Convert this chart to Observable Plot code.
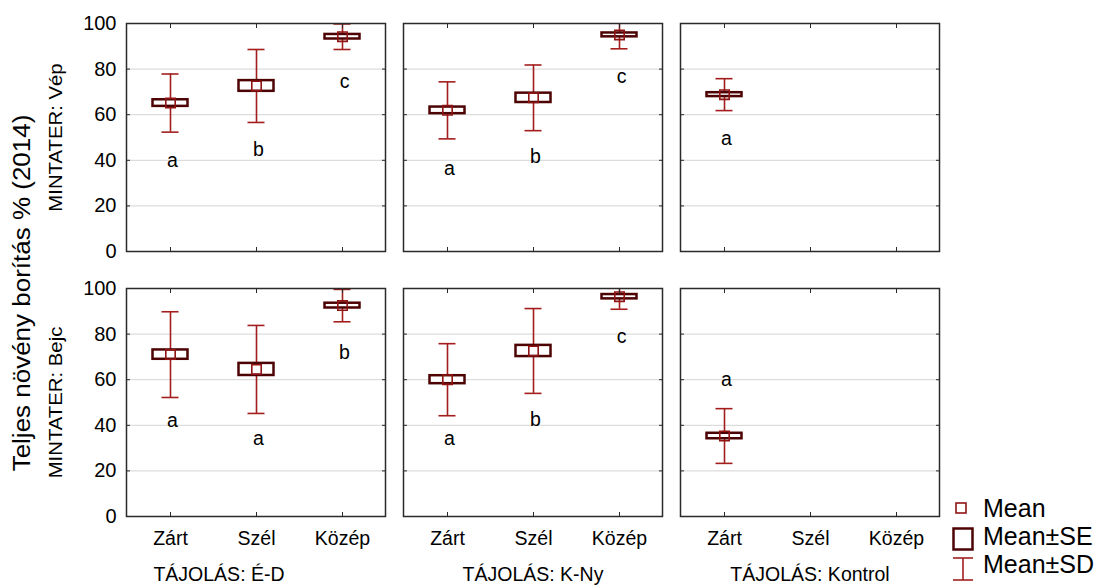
<!DOCTYPE html>
<html><head><meta charset="utf-8">
<script src="https://cdn.jsdelivr.net/npm/d3@7"></script>
<script src="https://cdn.jsdelivr.net/npm/@observablehq/plot@0.6"></script>
<style>body{margin:0;background:#fff;} #chart{width:1102px;height:586px;}</style>
</head><body><div id="chart"></div>
<script>
const tajolas = ["É-D", "K-Ny", "Kontrol"];
const mintater = ["Vép", "Bejc"];
const kategoriak = ["Zárt", "Szél", "Közép"];
const yTicks = [0, 20, 40, 60, 80, 100];
const gridTicks = [20, 40, 60, 80];

const groupMintater = ["Vép","Vép","Vép","Vép","Vép","Vép","Vép","Bejc","Bejc","Bejc","Bejc","Bejc","Bejc","Bejc"];
const groupTajolas  = ["É-D","É-D","É-D","K-Ny","K-Ny","K-Ny","Kontrol","É-D","É-D","É-D","K-Ny","K-Ny","K-Ny","Kontrol"];
const groupKategoria = ["Zárt","Szél","Közép","Zárt","Szél","Közép","Zárt","Zárt","Szél","Közép","Zárt","Szél","Közép","Zárt"];
const means = [65.1, 72.6, 94.2, 61.9, 67.4, 95.0, 68.8, 71.0, 64.5, 92.5, 60.0, 72.6, 96.4, 35.3];
const se    = [1.45, 2.35, 1.0, 1.45, 2.05, 0.85, 0.85, 2.05, 2.65, 1.05, 1.75, 2.45, 0.95, 1.2];
const sd    = [12.75, 16.0, 5.6, 12.5, 14.4, 6.1, 7.0, 18.8, 19.3, 7.1, 15.8, 18.6, 5.5, 12.0];
const letters   = ["a","b","c","a","b","c","a","a","a","b","a","b","c","a"];
const letterPos = [40, 44.5, 74.3, 36.5, 41.5, 76.5, 49.6, 42.2, 34.1, 71.8, 34, 42.5, 79, 60];

const legendLabels = ["Mean", "Mean±SE", "Mean±SD"];
const yLabel = "Teljes növény borítás % (2014)";

const data = means.map((m, i) => ({
  mint: groupMintater[i], taj: groupTajolas[i], kat: groupKategoria[i],
  mean: m, se: se[i], sd: sd[i], letter: letters[i], lpos: letterPos[i]
}));

const FONT = "'Liberation Sans', Arial, sans-serif";
const whisk = "#a31d1d";
const seCol = "#4d0303";
const meanCol = "#8f1515";
const F = {fx: "taj", fy: "mint", x: "kat"};
const fxFmt = d => "TÁJOLÁS: " + d;
const bottomRow = () => mintater[mintater.length - 1];

const svg = Plot.plot({
  width: 1102, height: 586,
  marginLeft: 125, marginRight: 163, marginTop: 23, marginBottom: 69,
  style: {fontFamily: FONT, fontSize: "19.5px", color: "#000", background: "#fff"},
  x: {domain: kategoriak, padding: 0},
  y: {domain: [0, 100]},
  fx: {domain: tajolas, paddingInner: 0.0667, paddingOuter: 0, axis: null},
  fy: {domain: mintater, paddingInner: 0.139, paddingOuter: 0, axis: null},
  marks: [
    Plot.gridY(gridTicks, {stroke: "#d4d4d4", strokeOpacity: 1, strokeWidth: 1}),
    Plot.ruleX(data, {...F, y1: d => d.mean - d.sd, y2: d => d.mean + d.sd, stroke: whisk, strokeWidth: 1.6, clip: true}),
    Plot.tickY(data, {...F, y: d => d.mean - d.sd, insetLeft: 34.5, insetRight: 34.5, stroke: whisk, strokeWidth: 1.6, clip: true}),
    Plot.tickY(data, {...F, y: d => d.mean + d.sd, insetLeft: 34.5, insetRight: 34.5, stroke: whisk, strokeWidth: 1.6, clip: true}),
    Plot.barY(data, {...F, y1: d => d.mean - d.se, y2: d => d.mean + d.se, insetLeft: 25.5, insetRight: 25.5, fill: "white", stroke: seCol, strokeWidth: 2.5}),
    Plot.dot(data, {...F, y: "mean", symbol: "square", r: 5.3, stroke: meanCol, strokeWidth: 1.6, fill: "none"}),
    Plot.text(data, {...F, y: "lpos", text: "letter", dx: 2, fontSize: 19.5}),
    Plot.frame({stroke: "#2a2a2a", strokeWidth: 1.5}),
    Plot.axisY(yTicks, {anchor: "left", tickSize: 0, tickPadding: 10, label: null, fontSize: 20}),
    Plot.axisY(yTicks, {anchor: "left", tickSize: 4, dx: 4, fill: "none", facetAnchor: null, label: null, stroke: "#2a2a2a"}),
    Plot.axisY(yTicks, {anchor: "right", tickSize: 4, dx: -4, fill: "none", facetAnchor: null, label: null, stroke: "#2a2a2a"}),
    Plot.axisX({anchor: "bottom", tickSize: 0, tickPadding: 15, label: null}),
    Plot.axisX({anchor: "top", tickSize: 4, dy: 4, fill: "none", facetAnchor: null, label: null, stroke: "#2a2a2a"}),
    Plot.axisX({anchor: "bottom", tickSize: 4, dy: -4, fill: "none", facetAnchor: null, label: null, stroke: "#2a2a2a"}),
    Plot.text([tajolas[0]], {fx: d => d, fy: bottomRow, text: fxFmt, frameAnchor: "bottom", lineAnchor: "top", dy: 51, dx: -37}),
    Plot.text(tajolas.slice(1), {fx: d => d, fy: bottomRow, text: fxFmt, frameAnchor: "bottom", lineAnchor: "top", dy: 51}),
    Plot.text(mintater, {fy: d => d, fx: () => tajolas[0], text: d => "MINTATER: " + d, frameAnchor: "left", textAnchor: "middle", dx: -70, rotate: -90, fontSize: 18})
  ]
});

const s = d3.select(svg);
s.selectAll("text").filter(function() { return (this.textContent || "").startsWith("MINTATER"); })
  .attr("transform", function() { return (this.getAttribute("transform") || "") + " scale(1.13,1)"; });

s.append("text")
  .attr("transform", "translate(30,293) rotate(-90) scale(1.13,1)")
  .attr("text-anchor", "middle")
  .attr("font-size", 23)
  .attr("fill", "#000")
  .text(yLabel);

const lg = s.append("g").attr("font-size", 25).attr("fill", "#000").attr("text-anchor", "start");
lg.append("rect").attr("x", 956).attr("y", 503).attr("width", 10).attr("height", 10)
  .attr("fill", "none").attr("stroke", meanCol).attr("stroke-width", 1.6);
lg.append("rect").attr("x", 953.5).attr("y", 528.5).attr("width", 19).attr("height", 21)
  .attr("fill", "white").attr("stroke", seCol).attr("stroke-width", 2.5);
lg.append("line").attr("x1", 963).attr("x2", 963).attr("y1", 558).attr("y2", 580).attr("stroke", whisk).attr("stroke-width", 1.6);
lg.append("line").attr("x1", 953).attr("x2", 973).attr("y1", 558).attr("y2", 558).attr("stroke", whisk).attr("stroke-width", 1.6);
lg.append("line").attr("x1", 953).attr("x2", 973).attr("y1", 580).attr("y2", 580).attr("stroke", whisk).attr("stroke-width", 1.6);
[517, 545, 573].forEach((y, i) => {
  lg.append("text").attr("x", 983).attr("y", y).attr("text-anchor", "start").text(legendLabels[i]);
});

document.getElementById("chart").appendChild(svg);
</script>
</body></html>
